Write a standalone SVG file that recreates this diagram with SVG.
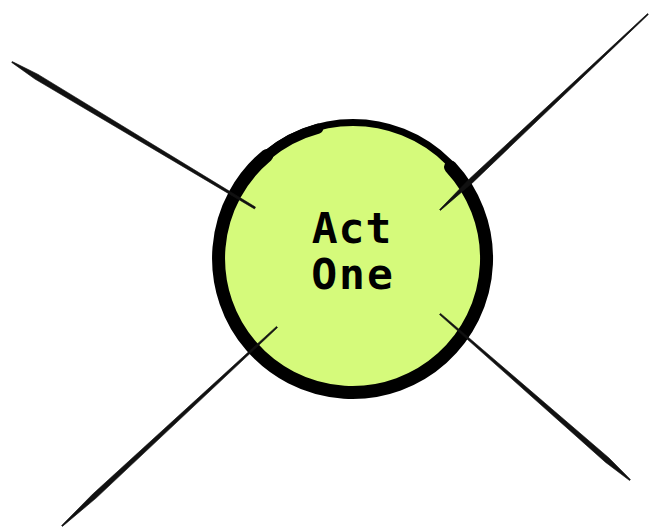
<svg xmlns="http://www.w3.org/2000/svg" width="650" height="531" viewBox="0 0 650 531">
<style>
.brush{fill:#111;stroke:#111;stroke-width:0.6;stroke-linejoin:round}
.ring{fill:#d5fa7b;stroke:#000;stroke-width:7}
.ringthick{fill:none;stroke:#000;stroke-width:13;stroke-linecap:round}
.ringtail{fill:none;stroke:#000;stroke-width:10;stroke-linecap:round}
.label{font-family:"DejaVu Sans Mono","Liberation Mono",monospace;font-weight:bold;font-size:43px;fill:#000;text-anchor:middle}
</style>
<rect width="650" height="531" fill="#fff"/>
<g id="node-act-one">
<circle class="ring" cx="353" cy="258" r="135.5"/>
<path class="ringthick" d="M450.5,167 A134,134 0 1 1 266.9,155.4"/>
<path class="ringtail" d="M266.9,155.4 A134,134 0 0 1 318.3,128.6"/>
<text class="label" x="352" y="243" letter-spacing="1">Act</text>
<text class="label" x="353" y="289" letter-spacing="2">One</text>
</g>
<g id="connectors">
<polygon class="brush" points="12.3,61.6 37.7,74.2 255.5,207.1 254.5,208.9 34.9,79.0 11.7,62.4"/>
<polygon class="brush" points="648.4,14.4 472.9,182.4 440.4,210.4 439.6,209.6 469.5,178.8 647.6,13.6"/>
<polygon class="brush" points="62.4,526.4 96.1,498.1 277.5,327.6 276.5,326.4 92.5,494.3 61.6,525.6"/>
<polygon class="brush" points="630.4,479.5 609.0,458.0 440.5,313.4 439.5,314.6 605.4,462.2 629.6,480.5"/>
</g>
</svg>
